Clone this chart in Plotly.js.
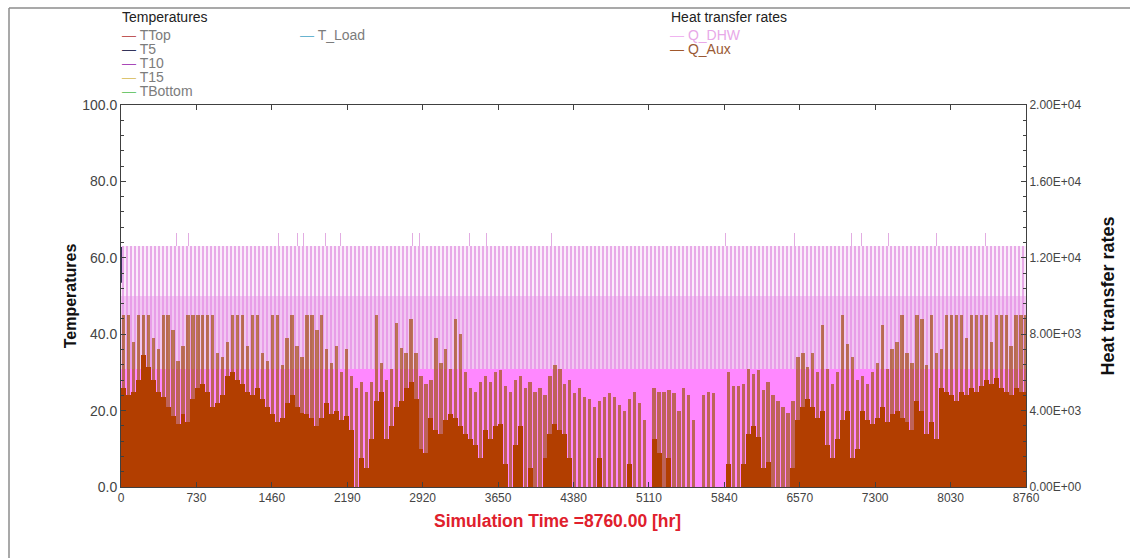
<!DOCTYPE html>
<html><head><meta charset="utf-8">
<script src="https://cdn.plot.ly/plotly-3.0.1.min.js"></script>
<style>html,body{margin:0;padding:0;background:#fff}#chart{width:1130px;height:558px}</style>
</head><body><div id="chart"></div>
<script>
// ---------- axis ticks ----------
const xTickVals = [0,730,1460,2190,2920,3650,4380,5110,5840,6570,7300,8030,8760];
const rightTickVals = [0,4000,8000,12000,16000,20000];
const rightTickText = ['0.00E+00','4.00E+03','8.00E+03','1.20E+04','1.60E+04','2.00E+04'];

// ---------- legend entries ----------
const tempNames  = ['TTop','T5','T10','T15','TBottom','T_Load'];
const tempColors = ['#c05858','#33335a','#a848b8','#dcc470','#70c870','#68b4d0'];
const heatNames  = ['Q_DHW','Q_Aux'];
const heatColors = ['#f0b4f0','#a0582c'];
const heatTextColors = ['#e8a8e8','#9a5a34'];

// ---------- temperature (only visible start segment, hour 0) ----------
const tStartHours = [0, 0];
const tStartValues = [53.5, 62.8];

// ---------- Q_DHW (kJ/hr) ----------
const dhwSpanHours = [0, 8760];
const dhwLevels = [12600, 10000, 6200];          // upper draw, mid draw, base draw
const dhwSpikeHours  = [536,653,1529,1705,1770,1982,2127,2823,2889,3376,3541,4168,5850,6520,7075,7167,7433,7895,8369];
const dhwSpikeValues = [13300,13300,13300,13300,13300,13300,13300,13300,13300,13300,13300,13300,13300,13300,13300,13300,13300,13300,13300];

// ---------- Q_Aux (kJ/hr), 48-hour bins ----------
const auxBinHours = 48;
const auxBase = [
 5200,4800,5000,5600,6900,6300,5600,5000,4700,4200,3700,3300,3800,3400,4600,5200,5400,5000,4200,4400,4800,5800,6000,5600,5400,5000,4800,5200,4600,4200,3800,3400,3600,4400,4800,4200,
 3900,3800,3600,3200,3600,4400,3800,4000,3500,3700,3000,0,1500,1000,2500,4500,5000,2500,3200,4200,4500,5200,5500,4600,2000,1800,3600,3000,2800,3500,3800,3600,3200,2800,2500,2200,1500,
 3000,2500,3200,3300,1200,0,2200,3200,0,1000,0,0,1500,2800,3300,3000,2800,1500,0,0,0,0,0,1500,0,0,0,0,0,1200,0,0,0,0,2500,1800,
 0,1500,0,0,0,0,0,0,0,0,0,0,0,1200,0,0,1200,2800,3200,2600,1000,1300,0,0,0,0,1000,3500,4200,4600,4200,3600,4000,2200,1500,2500,
 3500,4000,1500,2000,4000,3500,3300,3600,4200,3400,3800,4000,3600,3400,3000,4500,4000,2800,3400,2500,5200,5000,4800,4500,5000,4800,5200,5000,5300,5600,5400,5700,5200,5000,4800,5200,5000,5000
];
const auxPeak = [
 9000,9000,7600,9000,9000,9000,7800,7200,9000,9000,8200,6600,7400,9000,9000,9000,9000,9000,9000,7000,6800,7600,9000,9000,9000,7400,9000,9000,7000,6600,9000,9000,6400,7800,9000,7400,
 6800,9000,9000,8200,9000,7200,6500,7400,6000,7200,5800,5200,5500,5000,5500,9000,6500,5600,6200,8600,7300,7000,8800,7000,5800,5400,5600,7800,6500,7200,6200,8800,8000,6000,5200,5000,5500,
 5800,5500,6000,6100,5300,5000,5600,5800,5200,5500,5000,5200,4800,5800,6400,6200,5400,5600,4900,5200,4700,4600,4200,4500,4700,4900,4700,4300,4000,4600,5000,4400,3500,0,5200,5000,
 5000,5100,4900,4000,5200,4800,3500,0,4800,5000,4900,0,0,6000,5300,5300,5400,6200,5900,6100,5100,5500,4800,4500,4200,3900,4500,6800,7000,6300,7000,6000,8500,6200,5400,6000,
 9000,7500,6800,5600,5800,5400,6000,6500,8500,6200,7200,7600,9000,7000,6500,9000,8800,6400,9000,7000,7200,9000,9000,9000,9000,7800,9000,9000,9000,9000,7600,9000,9000,9000,7400,9000,9000,9000
];
const auxCenters = auxBase.map((_, i) => auxBinHours * i + auxBinHours / 2);

// ---------- geometry helpers for layout (pixel -> paper) ----------
const L = 121, R = 1026, T = 105, B = 487;
const px = v => (v - L) / (R - L);
const py = v => (B - v) / (B - T);

const dhwCenter = (dhwSpanHours[0] + dhwSpanHours[1]) / 2;
const dhwWidth = dhwSpanHours[1] - dhwSpanHours[0];

const traces = [
  {type:'bar', name:'Q_DHW', x:dhwSpikeHours, y:dhwSpikeValues, width:10,
   marker:{color:'#e2ace2', line:{width:0}}},
  {type:'bar', name:'Q_DHW', x:[dhwCenter], y:[dhwLevels[0]], width:[dhwWidth],
   marker:{color:'#e8ace8', line:{width:0},
     pattern:{shape:'|', fillmode:'replace', fgcolor:'#e8aae8', bgcolor:'#fbecfb', size:4, solidity:0.5}}},
  {type:'bar', name:'Q_DHW', x:[dhwCenter], y:[dhwLevels[1]], width:[dhwWidth],
   marker:{color:'#e59ee5', line:{width:0},
     pattern:{shape:'|', fillmode:'replace', fgcolor:'#e89ee8', bgcolor:'#f5d2f5', size:4, solidity:0.6}}},
  {type:'bar', name:'Q_DHW', x:[dhwCenter], y:[dhwLevels[2]], width:[dhwWidth],
   marker:{color:'#ff88ff', line:{width:0}}},
  {type:'bar', name:'Q_Aux', x:auxCenters, y:auxPeak, width:32,
   marker:{color:'rgba(165,85,25,0.72)', line:{width:0}}},
  {type:'bar', name:'Q_Aux', x:auxCenters, y:auxBase, width:auxBinHours,
   marker:{color:'#b23e00', line:{width:0}}},
  {type:'scatter', mode:'lines', name:'T5', x:tStartHours, y:tStartValues, yaxis:'y2',
   line:{color:'#33335a', width:2}}
];

const annotations = [];
const legFont = {family:'Liberation Sans, Arial, sans-serif', size:14, color:'#7c7c7c'};
annotations.push({xref:'paper', yref:'paper', x:px(120), y:py(17), xanchor:'left', yanchor:'middle', showarrow:false,
  text:'Temperatures', font:{family:'Liberation Sans, Arial, sans-serif', size:14, color:'#222'}});
tempNames.forEach((n, i) => {
  const col = i < 5 ? 0 : 1;
  const row = i < 5 ? i : 0;
  annotations.push({xref:'paper', yref:'paper', x:px(col === 0 ? 120 : 298), y:py(35 + 14 * row),
    xanchor:'left', yanchor:'middle', showarrow:false, font:legFont,
    text:'<span style="color:' + tempColors[i] + '">—</span> ' + n});
});
annotations.push({xref:'paper', yref:'paper', x:px(669), y:py(17), xanchor:'left', yanchor:'middle', showarrow:false,
  text:'Heat transfer rates', font:{family:'Liberation Sans, Arial, sans-serif', size:14, color:'#222'}});
heatNames.forEach((n, i) => {
  annotations.push({xref:'paper', yref:'paper', x:px(668), y:py(35 + 14 * i),
    xanchor:'left', yanchor:'middle', showarrow:false,
    font:{family:'Liberation Sans, Arial, sans-serif', size:14, color:heatTextColors[i]},
    text:'<span style="color:' + heatColors[i] + '">—</span> ' + n});
});
annotations.push({xref:'paper', yref:'paper', x:px(557), y:py(521), xanchor:'center', yanchor:'middle', showarrow:false,
  text:'Simulation Time =8760.00 [hr]',
  font:{family:'Liberation Sans, Arial, sans-serif', size:17.5, weight:'bold', color:'#e0202c'}});

const axisCol = '#404040';
const layout = {
  width:1130, height:558,
  margin:{l:L, r:1130 - R, t:T, b:558 - B, pad:0},
  paper_bgcolor:'#ffffff', plot_bgcolor:'#ffffff',
  barmode:'overlay', bargap:0, showlegend:false, hovermode:false,
  font:{family:'Liberation Sans, Arial, sans-serif', color:'#444'},
  xaxis:{range:[0,8760], tickmode:'array', tickvals:xTickVals, ticktext:xTickVals.map(String),
    ticks:'inside', ticklen:5, tickcolor:axisCol, showline:true, linecolor:axisCol, linewidth:1,
    mirror:'ticks', showgrid:false, zeroline:false, tickfont:{size:12, color:'#444'}},
  // heat transfer rates: main axis, drawn on the right
  yaxis:{side:'right', range:[0,20000], tickmode:'array', tickvals:rightTickVals, ticktext:rightTickText,
    ticks:'inside', ticklen:5, tickcolor:axisCol,
    minor:{tickmode:'linear', tick0:0, dtick:800, ticks:'inside', ticklen:3, tickcolor:axisCol},
    showline:true, linecolor:axisCol, linewidth:1, showgrid:false, zeroline:false,
    tickfont:{size:12, color:'#444'},
    title:{text:'Heat transfer rates', standoff:20, font:{family:'Liberation Sans, Arial, sans-serif', size:18, weight:'bold', color:'#111'}}},
  // temperatures: overlaid axis, drawn on the left
  yaxis2:{overlaying:'y', side:'left', range:[0,100], tick0:0, dtick:20, tickformat:'.1f',
    ticks:'inside', ticklen:5, tickcolor:axisCol,
    minor:{tickmode:'linear', tick0:0, dtick:4, ticks:'inside', ticklen:3, tickcolor:axisCol},
    showline:true, linecolor:axisCol, linewidth:1, showgrid:false, zeroline:false,
    tickfont:{family:'Liberation Sans, Arial, sans-serif', size:14, color:'#444'},
    title:{text:'Temperatures', standoff:1, font:{family:'Liberation Sans, Arial, sans-serif', size:16, weight:'bold', color:'#111'}}},
  annotations:annotations,
  shapes:[
    {type:'line', xref:'paper', yref:'paper', x0:px(9), x1:px(9), y0:py(8), y1:py(600), line:{color:'#8c8c8c', width:1.5}},
    {type:'line', xref:'paper', yref:'paper', x0:px(9), x1:px(1200), y0:py(8), y1:py(8), line:{color:'#8c8c8c', width:1.5}}
  ]
};

Plotly.newPlot('chart', traces, layout, {staticPlot:true, displayModeBar:false});
</script>
</body></html>
